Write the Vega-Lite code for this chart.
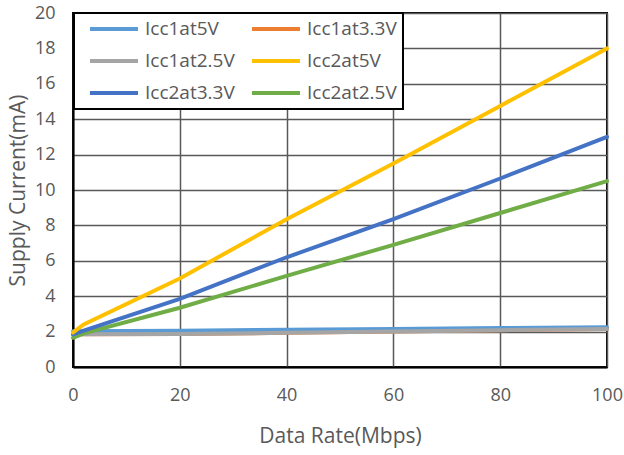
{
  "$schema": "https://vega.github.io/schema/vega-lite/v6.json",
  "width": 534,
  "height": 354,
  "autosize": {"type": "none"},
  "padding": {"left": 73, "top": 13, "right": 17, "bottom": 88},
  "background": "white",
  "config": {
    "font": "Open Sans",
    "view": {"stroke": "black", "strokeWidth": 2},
    "legend": {"strokeColor": "black", "fillColor": "white"},
    "axis": {
      "grid": true,
      "gridColor": "#595959",
      "gridWidth": 1.5,
      "ticks": false,
      "domainColor": "black",
      "domainWidth": 2,
      "labelFlush": false,
      "labelOverlap": false,
      "labelFontSize": 18,
      "labelColor": "#595959",
      "titleFontSize": 21,
      "titleFontWeight": "normal",
      "titleColor": "#595959"
    }
  },
  "data": {
    "values": [
      {"series": "Icc1at3.3V", "rate": 0, "current": 1.85},
      {"series": "Icc1at3.3V", "rate": 20, "current": 1.86},
      {"series": "Icc1at3.3V", "rate": 40, "current": 1.93},
      {"series": "Icc1at3.3V", "rate": 60, "current": 2.0},
      {"series": "Icc1at3.3V", "rate": 80, "current": 2.08},
      {"series": "Icc1at3.3V", "rate": 100, "current": 2.15},
      {"series": "Icc1at5V", "rate": 0, "current": 2.02},
      {"series": "Icc1at5V", "rate": 20, "current": 2.05},
      {"series": "Icc1at5V", "rate": 40, "current": 2.1},
      {"series": "Icc1at5V", "rate": 60, "current": 2.15},
      {"series": "Icc1at5V", "rate": 80, "current": 2.2},
      {"series": "Icc1at5V", "rate": 100, "current": 2.25},
      {"series": "Icc1at2.5V", "rate": 0, "current": 1.85},
      {"series": "Icc1at2.5V", "rate": 20, "current": 1.86},
      {"series": "Icc1at2.5V", "rate": 40, "current": 1.93},
      {"series": "Icc1at2.5V", "rate": 60, "current": 2.0},
      {"series": "Icc1at2.5V", "rate": 80, "current": 2.08},
      {"series": "Icc1at2.5V", "rate": 100, "current": 2.15},
      {"series": "Icc2at2.5V", "rate": 0, "current": 1.65},
      {"series": "Icc2at2.5V", "rate": 2, "current": 1.9},
      {"series": "Icc2at2.5V", "rate": 20, "current": 3.35},
      {"series": "Icc2at2.5V", "rate": 40, "current": 5.15},
      {"series": "Icc2at2.5V", "rate": 60, "current": 6.9},
      {"series": "Icc2at2.5V", "rate": 80, "current": 8.7},
      {"series": "Icc2at2.5V", "rate": 100, "current": 10.5},
      {"series": "Icc2at3.3V", "rate": 0, "current": 1.85},
      {"series": "Icc2at3.3V", "rate": 2, "current": 2.05},
      {"series": "Icc2at3.3V", "rate": 20, "current": 3.85},
      {"series": "Icc2at3.3V", "rate": 40, "current": 6.2},
      {"series": "Icc2at3.3V", "rate": 60, "current": 8.35},
      {"series": "Icc2at3.3V", "rate": 80, "current": 10.65},
      {"series": "Icc2at3.3V", "rate": 100, "current": 13.0},
      {"series": "Icc2at5V", "rate": 0, "current": 1.95},
      {"series": "Icc2at5V", "rate": 2, "current": 2.4},
      {"series": "Icc2at5V", "rate": 20, "current": 5.0},
      {"series": "Icc2at5V", "rate": 40, "current": 8.35},
      {"series": "Icc2at5V", "rate": 60, "current": 11.5},
      {"series": "Icc2at5V", "rate": 80, "current": 14.75},
      {"series": "Icc2at5V", "rate": 100, "current": 18.0}
    ]
  },
  "mark": {"type": "line", "strokeWidth": 4, "strokeCap": "round"},
  "encoding": {
    "x": {
      "field": "rate",
      "type": "quantitative",
      "scale": {"domain": [0, 100], "nice": false},
      "axis": {
        "values": [0, 20, 40, 60, 80, 100],
        "title": "Data Rate(Mbps)",
        "labelPadding": 19,
        "titlePadding": 21
      }
    },
    "y": {
      "field": "current",
      "type": "quantitative",
      "scale": {"domain": [0, 20], "nice": false},
      "axis": {
        "values": [0, 2, 4, 6, 8, 10, 12, 14, 16, 18, 20],
        "title": "Supply Current(mA)",
        "labelPadding": 18,
        "titlePadding": 6
      }
    },
    "color": {
      "field": "series",
      "type": "nominal",
      "scale": {
        "domain": ["Icc1at5V", "Icc1at2.5V", "Icc2at3.3V", "Icc1at3.3V", "Icc2at5V", "Icc2at2.5V"],
        "range": ["#5B9BD5", "#A5A5A5", "#4472C4", "#ED7D31", "#FFC000", "#70AD47"]
      },
      "legend": {
        "title": null,
        "orient": "none",
        "legendX": 1,
        "legendY": 0,
        "columns": 2,
        "symbolType": "M-3,0H3",
        "symbolSize": 256,
        "symbolStrokeWidth": 4,
        "symbolOffset": 24,
        "labelFontSize": 19,
        "labelColor": "#595959",
        "labelOffset": 21,
        "labelLimit": 200,
        "rowPadding": 12,
        "columnPadding": 7,
        "padding": 6,
        "encode": {
          "legend": {"update": {"strokeWidth": {"value": 2}}}
        }
      }
    }
  }
}
